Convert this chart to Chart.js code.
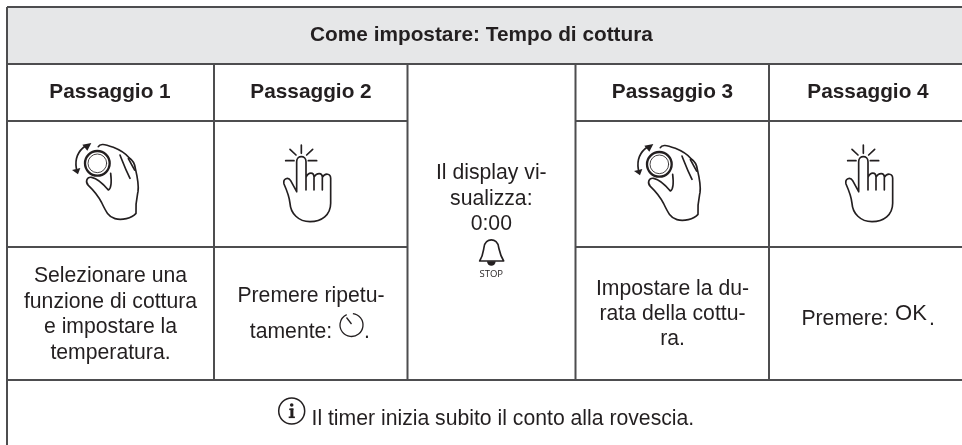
<!DOCTYPE html>
<html>
<head>
<meta charset="utf-8">
<script src="https://cdn.jsdelivr.net/npm/chart.js@4"></script>
<style>
  body { margin: 0; background: #fff; }
  canvas { display: block; }
</style>
</head>
<body>
<canvas id="chart" width="962" height="445"></canvas>
<script>
var columnEdges = [7, 214, 407.5, 575.5, 769, 962];
var rowEdges = [7, 64, 121, 247, 380, 445];

var titleText = 'Come impostare: Tempo di cottura';
var stepHeaders = ['Passaggio 1', 'Passaggio 2', 'Passaggio 3', 'Passaggio 4'];
var centerLines = ['Il display vi-', 'sualizza:', '0:00'];
var step1Lines = ['Selezionare una', 'funzione di cottura', 'e impostare la', 'temperatura.'];
var step2Lines = ['Premere ripetu-', 'tamente:'];
var step3Lines = ['Impostare la du-', 'rata della cottu-', 'ra.'];
var step4Text = 'Premere:';
var noteText = 'Il timer inizia subito il conto alla rovescia.';

var ink = '#231f20';
var rule = '#4d4d4f';
var headerFill = '#e6e7e8';

// table rules: each one is a short line dataset
function ruleSet(x1, y1, x2, y2) {
  return {
    data: [{x: x1, y: y1}, {x: x2, y: y2}],
    showLine: true,
    borderColor: rule,
    borderWidth: 2,
    pointRadius: 0,
    clip: false
  };
}

var c = columnEdges, r = rowEdges;
var rules = [
  ruleSet(c[0], r[0], c[5], r[0]),
  ruleSet(c[0], r[1], c[5], r[1]),
  ruleSet(c[0], r[2], c[2], r[2]),
  ruleSet(c[3], r[2], c[5], r[2]),
  ruleSet(c[0], r[3], c[2], r[3]),
  ruleSet(c[3], r[3], c[5], r[3]),
  ruleSet(c[0], r[4], c[5], r[4]),
  ruleSet(c[0], r[0], c[0], r[5]),
  ruleSet(c[1], r[1], c[1], r[4]),
  ruleSet(c[2], r[1], c[2], r[4]),
  ruleSet(c[3], r[1], c[3], r[4]),
  ruleSet(c[4], r[1], c[4], r[4])
];

// icons, drawn at 3x around their own origin
var handPath = 'M295 440 C300 430 312 432 340 442 C365 452 378 462 388 474 C400 482 404 490 406 505 ' +
  'C412 530 417 555 414 575 C410 595 406 610 408 640 C395 655 365 662 345 656 C325 650 318 635 305 608 ' +
  'C295 588 285 575 265 556 C255 545 260 530 275 532 C290 535 310 552 325 570 C335 565 335 545 332 520';
var handInner = 'M360 465 C368 485 375 505 390 535 M385 476 C392 488 398 500 404 510';
var pointerPath = 'M890 575 L890 485 C890 465 918 465 918 485 L918 570 M918 532 C925 515 942 515 942 532 L942 570 ' +
  'M942 532 C950 517 967 517 967 532 L967 570 M967 532 C975 518 992 520 992 535 L992 610 ' +
  'C992 645 965 665 930 665 C895 665 872 640 870 610 C868 590 860 570 852 552 C848 535 865 530 872 542 L890 575';
var pointerRays = 'M904 435 L904 460 M870 448 L888 465 M938 448 L920 465 M857 482 L882 482 M925 482 L950 482';

function drawLines(ctx, lines, x, firstBaseline, gap) {
  for (var i = 0; i < lines.length; i++) {
    ctx.fillText(lines[i], x, firstBaseline + i * gap);
  }
}

function drawKnob(ctx, dx, dy) {
  ctx.save();
  ctx.translate(dx, dy);
  ctx.scale(1 / 3, 1 / 3);
  ctx.strokeStyle = ink;
  ctx.fillStyle = ink;
  ctx.lineCap = 'round';
  ctx.lineJoin = 'round';
  ctx.lineWidth = 5;
  ctx.stroke(new Path2D(handPath));
  ctx.stroke(new Path2D(handInner));
  ctx.lineWidth = 7;
  ctx.beginPath();
  ctx.arc(292, 490, 37, 0, Math.PI * 2);
  ctx.stroke();
  ctx.lineWidth = 2.5;
  ctx.beginPath();
  ctx.arc(292, 490, 28, 0, Math.PI * 2);
  ctx.stroke();
  ctx.lineWidth = 5;
  ctx.beginPath();
  ctx.moveTo(256, 438);
  ctx.quadraticCurveTo(222, 462, 229, 505);
  ctx.stroke();
  ctx.fill(new Path2D('M274 429 L247 434 L262 452 Z'));
  ctx.fill(new Path2D('M216 510 L241 504 L234 523 Z'));
  ctx.restore();
}

function drawPointer(ctx, dx, dy) {
  ctx.save();
  ctx.translate(dx, dy);
  ctx.scale(1 / 3, 1 / 3);
  ctx.strokeStyle = ink;
  ctx.lineCap = 'round';
  ctx.lineJoin = 'round';
  ctx.lineWidth = 5;
  ctx.stroke(new Path2D(pointerPath));
  ctx.stroke(new Path2D(pointerRays));
  ctx.restore();
}

function drawBell(ctx) {
  ctx.save();
  ctx.translate(400, 100);
  ctx.scale(1 / 3, 1 / 3);
  ctx.strokeStyle = ink;
  ctx.fillStyle = ink;
  ctx.lineWidth = 5;
  ctx.lineJoin = 'round';
  ctx.stroke(new Path2D('M239 483 L311 483 C300 465 298 450 296 442 C292 412 256 412 252 442 C250 450 250 465 239 483 Z'));
  ctx.beginPath();
  ctx.arc(274, 484, 13, 0, Math.PI);
  ctx.fill();
  ctx.restore();
}

function drawTimer(ctx) {
  var x = 351.5, y = 325, rad = 11.5;
  ctx.save();
  ctx.strokeStyle = ink;
  ctx.lineWidth = 1.3;
  ctx.beginPath();
  ctx.arc(x, y, rad, -1.45, -2.0 + Math.PI * 2);
  ctx.stroke();
  ctx.beginPath();
  ctx.moveTo(x - 5, y - 7.5);
  ctx.lineTo(x, y - 1);
  ctx.stroke();
  ctx.restore();
}

function drawInfo(ctx) {
  var x = 291.7, y = 411;
  ctx.save();
  ctx.strokeStyle = ink;
  ctx.fillStyle = ink;
  ctx.lineWidth = 1.5;
  ctx.beginPath();
  ctx.arc(x, y, 13, 0, Math.PI * 2);
  ctx.stroke();
  ctx.beginPath();
  ctx.arc(x, y - 6, 1.8, 0, Math.PI * 2);
  ctx.fill();
  ctx.fillRect(x - 2.5, y - 2.5, 4.2, 1.6);
  ctx.fillRect(x - 1.3, y - 2.5, 3, 9);
  ctx.fillRect(x - 3, y + 5.5, 6.2, 1.6);
  ctx.restore();
}

var tablePlugin = {
  id: 'tablePlugin',
  beforeDatasetsDraw: function (chart) {
    var ctx = chart.ctx, sx = chart.scales.x, sy = chart.scales.y;
    ctx.save();
    ctx.fillStyle = headerFill;
    ctx.fillRect(sx.getPixelForValue(c[0]), sy.getPixelForValue(r[0]),
      sx.getPixelForValue(c[5]) - sx.getPixelForValue(c[0]), sy.getPixelForValue(r[1]) - sy.getPixelForValue(r[0]));
    ctx.restore();
  },
  afterDatasetsDraw: function (chart) {
    var ctx = chart.ctx;
    ctx.save();
    ctx.fillStyle = ink;
    ctx.textAlign = 'center';
    ctx.textBaseline = 'alphabetic';

    ctx.font = 'bold 20.8px "Liberation Sans"';
    ctx.fillText(titleText, 481.5, 41);
    ctx.fillText(stepHeaders[0], 110, 97.5);
    ctx.fillText(stepHeaders[1], 311, 97.5);
    ctx.fillText(stepHeaders[2], 672.5, 97.5);
    ctx.fillText(stepHeaders[3], 868, 97.5);

    ctx.font = '21.2px "Liberation Sans"';
    drawLines(ctx, centerLines, 491.3, 179, 25.5);
    drawLines(ctx, step1Lines, 110.5, 282, 25.5);
    ctx.fillText(step2Lines[0], 311, 302);
    ctx.fillText(step2Lines[1], 291, 338);
    ctx.fillText('.', 367, 338);
    drawLines(ctx, step3Lines, 672.5, 295, 25);
    ctx.fillText(step4Text, 845, 325);
    ctx.fillText('.', 932, 325);
    ctx.textAlign = 'left';
    ctx.fillText(noteText, 311.5, 425);

    ctx.textAlign = 'center';
    ctx.font = '22px "Liberation Sans"';
    ctx.fillText('OK', 911, 320);
    ctx.font = '9.5px "Open Sans"';
    ctx.fillText('STOP', 491.3, 277);
    ctx.restore();

    drawKnob(ctx, 0, 0);
    drawKnob(ctx, 562, 1);
    drawPointer(ctx, 0, 0);
    drawPointer(ctx, 562, 0);
    drawBell(ctx);
    drawTimer(ctx);
    drawInfo(ctx);
  }
};

new Chart(document.getElementById('chart'), {
  type: 'scatter',
  data: { datasets: rules },
  options: {
    responsive: false,
    animation: false,
    layout: { padding: 0 },
    plugins: { legend: { display: false }, tooltip: { enabled: false } },
    scales: {
      x: { type: 'linear', display: false, min: 0, max: 962 },
      y: { type: 'linear', display: false, min: 0, max: 445, reverse: true }
    }
  },
  plugins: [tablePlugin]
});
</script>
</body>
</html>
